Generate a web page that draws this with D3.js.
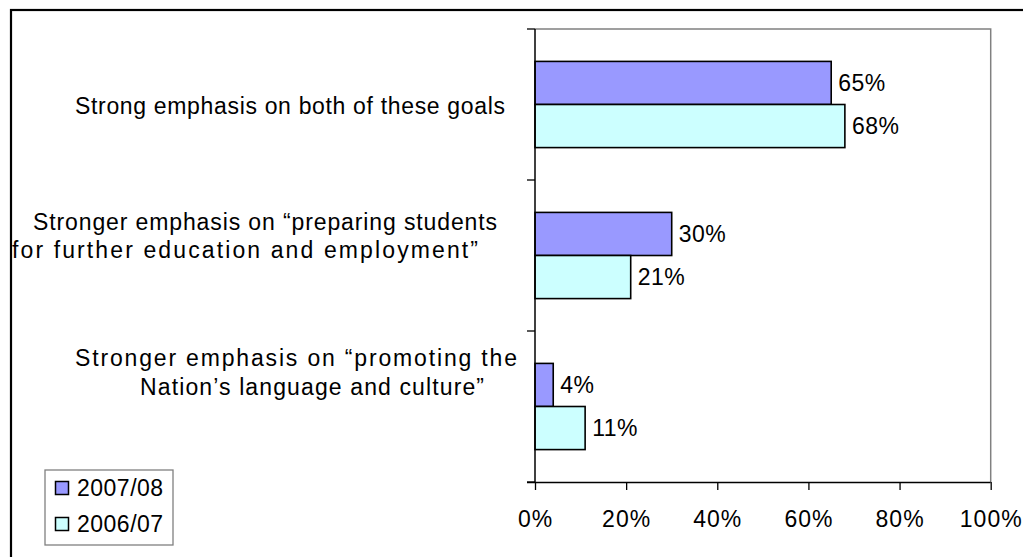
<!DOCTYPE html>
<html>
<head>
<meta charset="utf-8">
<script src="https://cdn.jsdelivr.net/npm/d3@7"></script>
<style>
  html, body { margin: 0; padding: 0; background: #fff; }
  svg { display: block; }
  text { font-family: "Liberation Sans", Arial, sans-serif; fill: #000; }
</style>
</head>
<body>
<svg id="chart" width="1023" height="557"></svg>
<script>
// Survey responses: emphasis placed on the two goals, two school years
const categories = ["both", "preparing", "promoting"];
const categoryLines = [
  ["Strong emphasis on both of these goals"],
  ["Stronger emphasis on \u201cpreparing students", "for further education and employment\u201d"],
  ["Stronger emphasis on \u201cpromoting the", "Nation\u2019s language and culture\u201d"]
];
const seriesNames = ["2007/08", "2006/07"];
const values2007 = [65, 30, 4];
const values2006 = [68, 21, 11];
const xTickValues = [0, 20, 40, 60, 80, 100];

const seriesValues = [values2007, values2006];
const seriesColors = ["#9999FF", "#CCFFFF"];

const svg = d3.select("#chart");
const fontSize = 23;
const letterSpacing = 0.5;

// Chart frame
svg.append("rect")
  .attr("x", 11).attr("y", 10)
  .attr("width", 1040).attr("height", 580)
  .attr("fill", "#fff").attr("stroke", "#000").attr("stroke-width", 2.2);

const plot = { left: 535, right: 990.7, top: 29, bottom: 482 };

const x = d3.scaleLinear().domain([0, 100]).range([plot.left, plot.right]);
const y = d3.scaleBand().domain(categories).range([plot.top, plot.bottom]).padding(0);
const ySeries = d3.scaleBand().domain(seriesNames).range([0, y.bandwidth()])
  .paddingInner(0).paddingOuter(0.752);

// Plot area outline (top and right in gray)
svg.append("path")
  .attr("d", `M${plot.left},${plot.top}H${plot.right}V${plot.bottom}`)
  .attr("fill", "none").attr("stroke", "#808080").attr("stroke-width", 1.5);

// Bars
const rows = [];
categories.forEach((c, i) => {
  seriesNames.forEach((s, j) => {
    rows.push({ cat: c, series: s, value: seriesValues[j][i], color: seriesColors[j] });
  });
});

const barG = svg.append("g");
barG.selectAll("rect").data(rows).join("rect")
  .attr("x", x(0))
  .attr("y", d => y(d.cat) + ySeries(d.series))
  .attr("width", d => x(d.value) - x(0))
  .attr("height", ySeries.bandwidth())
  .attr("fill", d => d.color)
  .attr("stroke", "#000").attr("stroke-width", 1.6);

// Value labels
barG.selectAll("text").data(rows).join("text")
  .attr("x", d => x(d.value) + 7)
  .attr("y", d => y(d.cat) + ySeries(d.series) + ySeries.bandwidth() / 2)
  .attr("dy", "0.36em")
  .attr("font-size", fontSize)
  .attr("letter-spacing", letterSpacing)
  .text(d => d.value + "%");

// X axis
const xAxis = d3.axisBottom(x).tickValues(xTickValues).tickFormat(d => d + "%")
  .tickSize(8).tickSizeOuter(0);
const gx = svg.append("g").attr("transform", `translate(0,${plot.bottom})`).call(xAxis);
gx.select(".domain").attr("stroke", "#000").attr("stroke-width", 1.5)
  .attr("d", `M${plot.left - 8},0.5H${plot.right}`);
gx.selectAll(".tick line").attr("stroke", "#000").attr("stroke-width", 1.3);
gx.selectAll(".tick text")
  .attr("y", 37).attr("dy", "0.36em")
  .attr("font-size", fontSize).attr("letter-spacing", 1)
  .attr("font-family", "Liberation Sans, Arial, sans-serif").attr("fill", "#000");

// Y axis: ticks on category boundaries
const boundaries = categories.map(c => y(c)).concat([plot.bottom]);
const gy = svg.append("g");
gy.append("line")
  .attr("x1", plot.left).attr("x2", plot.left)
  .attr("y1", plot.top).attr("y2", plot.bottom)
  .attr("stroke", "#000").attr("stroke-width", 1.5);
gy.selectAll("line.tick").data(boundaries).join("line")
  .attr("class", "tick")
  .attr("x1", plot.left - 8).attr("x2", plot.left)
  .attr("y1", d => d).attr("y2", d => d)
  .attr("stroke", "#000").attr("stroke-width", 1.3);

// Category labels, one text per wrapped line: [left, right, centre y]
const labelLayout = [
  [[75, 505, 106]],
  [[33, 497, 222], [12, 478, 250]],
  [[75, 517, 358], [140, 484, 387]]
];
const labelG = svg.append("g");
categories.forEach((c, i) => {
  categoryLines[i].forEach((line, k) => {
    const [x0, x1, yc] = labelLayout[i][k];
    labelG.append("text")
      .attr("x", x0)
      .attr("y", yc)
      .attr("dy", "0.36em")
      .attr("font-size", fontSize)
      .attr("textLength", x1 - x0)
      .attr("lengthAdjust", "spacing")
      .text(line);
  });
});

// Legend
const legend = svg.append("g");
legend.append("rect")
  .attr("x", 45).attr("y", 470).attr("width", 128).attr("height", 75)
  .attr("fill", "#fff").attr("stroke", "#808080").attr("stroke-width", 1.3);
const legendRows = [488, 524];
seriesNames.forEach((s, j) => {
  legend.append("rect")
    .attr("x", 55.5).attr("y", legendRows[j] - 6.5)
    .attr("width", 13).attr("height", 13)
    .attr("fill", seriesColors[j]).attr("stroke", "#000").attr("stroke-width", 1.5);
  legend.append("text")
    .attr("x", 77).attr("y", legendRows[j]).attr("dy", "0.36em")
    .attr("font-size", fontSize).attr("letter-spacing", letterSpacing)
    .text(s);
});
</script>
</body>
</html>
